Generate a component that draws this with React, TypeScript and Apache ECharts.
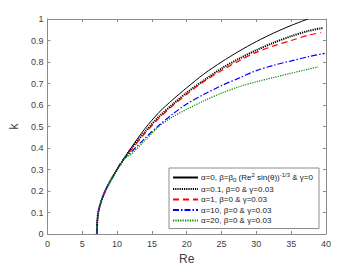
import React, { useEffect, useRef } from "react";
import * as echarts from "echarts";

const xTicks = [0, 5, 10, 15, 20, 25, 30, 35, 40];
const yTicks = [0, 0.1, 0.2, 0.3, 0.4, 0.5, 0.6, 0.7, 0.8, 0.9, 1];

const startRe = [7.1, 7.15, 7.3, 7.7, 8.3, 9.1, 10, 11];
const startK = [0, 0.05, 0.1, 0.15, 0.2, 0.25, 0.3, 0.35];

const reSolid = [12, 14, 16, 18, 20, 22.5, 25, 27.5, 30, 32.5, 35, 37.4];
const kSolid = [0.4, 0.49, 0.565, 0.625, 0.68, 0.745, 0.8, 0.85, 0.895, 0.935, 0.97, 1.0];

const reA01 = [12, 14, 16, 18, 20, 22.5, 25, 27.5, 30, 32.5, 35, 37.5, 39.5];
const kA01 = [0.395, 0.475, 0.545, 0.603, 0.657, 0.715, 0.77, 0.815, 0.855, 0.89, 0.92, 0.945, 0.958];

const reA1 = [12, 14, 16, 18, 20, 22.5, 25, 27.5, 30, 32.5, 35, 37.5, 39.3];
const kA1 = [0.39, 0.468, 0.538, 0.597, 0.65, 0.71, 0.76, 0.805, 0.845, 0.875, 0.9, 0.925, 0.937];

const reA10 = [12, 14, 16, 18, 20, 22.5, 25, 27.5, 30, 32.5, 35, 37.5, 39.8];
const kA10 = [0.38, 0.445, 0.505, 0.558, 0.605, 0.65, 0.69, 0.725, 0.76, 0.785, 0.805, 0.825, 0.84];

const reA20 = [12, 14, 16, 18, 20, 22.5, 25, 27.5, 30, 32.5, 35, 37.5, 38.9];
const kA20 = [0.37, 0.435, 0.5, 0.545, 0.58, 0.62, 0.655, 0.685, 0.708, 0.728, 0.748, 0.767, 0.777];

const names = [
  "α=0, β=β{sub|0} (Re{sup|2} sin(θ)){sup|-1/3} & γ=0",
  "α=0.1, β=0 & γ=0.03",
  "α=1, β=0 & γ=0.03",
  "α=10, β=0 & γ=0.03",
  "α=20, β=0 & γ=0.03",
];
const legendKeys = ["s0", "s1", "s2", "s3", "s4"];

function pairs(re: number[], k: number[]) {
  const all = startRe.map((x, i) => [x, startK[i]]);
  return all.concat(re.map((x, i) => [x, k[i]]));
}

export default function App() {
  const ref = useRef<HTMLDivElement>(null);
  useEffect(() => {
    if (!ref.current) return;
    const chart = echarts.init(ref.current, null, { renderer: "svg" });
    const font = "Liberation Sans, Arial, sans-serif";
    const axisColor = "#8c8c8c";
    const labelColor = "#404040";
    const mkSeries = (i: number, re: number[], k: number[], color: string, type: any, width: number) => ({
      name: legendKeys[i],
      type: "line",
      data: pairs(re, k),
      showSymbol: false,
      symbol: "none",
      smooth: 0.3,
      lineStyle: { color, type, width },
      itemStyle: { color },
      xAxisIndex: 0,
      yAxisIndex: 0,
    });
    chart.setOption({
      animation: false,
      backgroundColor: "#ffffff",
      grid: { left: 47, right: 34, top: 19, bottom: 33 },
      xAxis: [
        {
          type: "value",
          min: 0,
          max: 40,
          interval: 5,
          position: "bottom",
          name: "Re",
          nameLocation: "middle",
          nameGap: 19,
          nameTextStyle: { fontSize: 12, color: labelColor, fontFamily: font },
          axisLine: { show: true, lineStyle: { color: axisColor, width: 1 } },
          axisTick: { show: true, inside: true, length: 3, lineStyle: { color: axisColor } },
          axisLabel: {
            fontSize: 9,
            color: labelColor,
            fontFamily: font,
            margin: 5,
            formatter: (v: number) => (xTicks.includes(v) ? String(v) : ""),
          },
          splitLine: { show: false },
        },
        {
          type: "value",
          min: 0,
          max: 40,
          interval: 5,
          position: "top",
          axisLine: { show: true, onZero: false, lineStyle: { color: axisColor, width: 1 } },
          axisTick: { show: true, inside: true, length: 3, lineStyle: { color: axisColor } },
          axisLabel: { show: false },
          splitLine: { show: false },
        },
      ],
      yAxis: [
        {
          type: "value",
          min: 0,
          max: 1,
          interval: 0.1,
          position: "left",
          name: "k",
          nameLocation: "middle",
          nameRotate: 90,
          nameGap: 22,
          nameTextStyle: { fontSize: 12, color: labelColor, fontFamily: font },
          axisLine: { show: true, lineStyle: { color: axisColor, width: 1 } },
          axisTick: { show: true, inside: true, length: 3, lineStyle: { color: axisColor } },
          axisLabel: {
            fontSize: 9,
            color: labelColor,
            fontFamily: font,
            margin: 4,
            formatter: (v: number) => {
              const t = yTicks.find((y) => Math.abs(y - v) < 1e-6);
              return t === undefined ? "" : String(t);
            },
          },
          splitLine: { show: false },
        },
        {
          type: "value",
          min: 0,
          max: 1,
          interval: 0.1,
          position: "right",
          axisLine: { show: true, onZero: false, lineStyle: { color: axisColor, width: 1 } },
          axisTick: { show: true, inside: true, length: 3, lineStyle: { color: axisColor } },
          axisLabel: { show: false },
          splitLine: { show: false },
        },
      ],
      legend: {
        orient: "vertical",
        left: 169,
        top: 168,
        width: 145,
        backgroundColor: "#ffffff",
        borderColor: "#8c8c8c",
        borderWidth: 1,
        borderRadius: 0,
        padding: [4, 6, 4, 3],
        itemGap: 2.5,
        itemWidth: 25,
        itemHeight: 9,
        itemStyle: { opacity: 0 },
        data: legendKeys,
        formatter: (n: string) => names[legendKeys.indexOf(n)],
        textStyle: {
          fontSize: 8,
          color: "#202020",
          fontFamily: font,
          padding: [0, 0, 0, -2],
          rich: {
            sup: { fontSize: 6, fontFamily: font, color: "#202020", padding: [0, 0, 5, 0] },
            sub: { fontSize: 6, fontFamily: font, color: "#202020", padding: [4, 0, 0, 0] },
          },
        },
      },
      series: [
        mkSeries(0, reSolid, kSolid, "#000000", "solid", 1),
        mkSeries(1, reA01, kA01, "#000000", [1.2, 1], 2),
        mkSeries(2, reA1, kA1, "#ff0000", [6, 4], 1.2),
        mkSeries(3, reA10, kA10, "#0000ff", [6, 2, 1.5, 2], 1.2),
        mkSeries(4, reA20, kA20, "#008a00", [1.2, 1.2], 1.2),
      ],
    });
    return () => chart.dispose();
  }, []);
  return (
    <div
      ref={ref}
      style={{ position: "absolute", left: 0, top: 0, width: 360, height: 270 }}
    />
  );
}
